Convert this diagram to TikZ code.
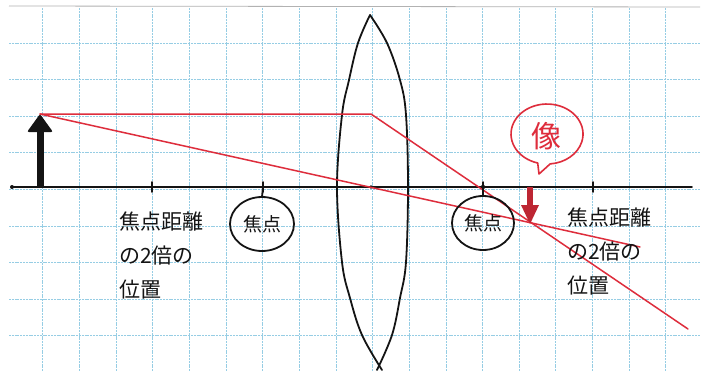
\documentclass[tikz,border=0pt]{standalone}
\usepackage{fontspec}
\newfontfamily\jp{Noto Sans CJK JP}
\definecolor{gridblue}{RGB}{150,205,228}
\definecolor{penred}{RGB}{222,45,60}
\definecolor{ink}{RGB}{20,20,20}
\begin{document}
\begin{tikzpicture}[x=1pt,y=-1pt,
  gridline/.style={draw=gridblue,line width=0.7pt,dash pattern=on 2pt off 0.8pt},
  inkline/.style={draw=ink,line width=1.8pt,line cap=round,line join=round},
  ray/.style={draw=penred,line width=1.5pt,line cap=round,line join=round},
  lbl/.style={font=\jp\fontsize{21}{34}\selectfont,text=ink,align=left,inner sep=0pt,anchor=north west},
  focustxt/.style={font=\jp\fontsize{19}{19}\selectfont,text=ink,inner sep=0pt},
]
\useasboundingbox (0,0) rectangle (705,373);
\fill[white] (0,0) rectangle (705,373);
% grid paper
\foreach \i in {0,...,17} \draw[gridline] ({42.7+36.65*\i},8) -- ({42.7+36.65*\i},371);
\foreach \j in {0,...,8} \draw[gridline] (9,{43+36.6*\j}) -- (700,{43+36.6*\j});
\draw[gray!60,line width=0.8pt] (9,6) -- (700,7);
% key points
\coordinate (axL) at (12,187);
\coordinate (axR) at (692,187);
\coordinate (lensC) at (371,187);
\coordinate (twoFL) at (152,187);
\coordinate (FL) at (263,187);
\coordinate (FR) at (483,187);
\coordinate (twoFR) at (593,187);
\coordinate (objBase) at (40,187);
\coordinate (objTip) at (40,114);
\coordinate (lensHit) at (371,114);
\coordinate (ray1End) at (688,329);
\coordinate (ray2End) at (640,247);
\coordinate (imgBase) at (530,187);
% optical axis
\draw[inkline] (axL) -- (axR);
\fill[ink] (axL) circle (2pt);
\fill[ink] (lensC) circle (1.8pt);
\foreach \p in {twoFL,FL,FR,twoFR} \draw[inkline] ([yshift=-5pt]\p) -- ([yshift=5pt]\p);
\fill[ink] (FR) circle (2.2pt);
% lens
\draw[inkline] plot[smooth,tension=0.6] coordinates {(370,15) (358,43) (349,80) (342,115) (337,187) (342,262) (350,298) (362,335) (382,370)};
\draw[inkline] plot[smooth,tension=0.6] coordinates {(370,15) (387,43) (400,80) (406,115) (408,187) (406,262) (400,298) (392,335) (377,370)};
% object arrow
\draw[ink,line width=7pt] (objBase) -- (40,127);
\fill[ink,rounded corners=2pt] (27,132) -- (objTip) -- (53,132) -- cycle;
% rays
\draw[ray] (objTip) -- (lensHit) -- (ray1End);
\draw[ray] (objTip) -- (ray2End);
% image arrow
\draw[penred!85!black,line width=5.5pt] (imgBase) -- (530,207);
\fill[penred!85!black] (521,205) -- (530,224) -- (539,205) -- cycle;
% focus circles
\node[focustxt] (focL) at (262,224) {焦点};
\draw[inkline] (262,224) ellipse [x radius=32,y radius=27];
\draw[inkline] (FL) -- (262,197);
\node[focustxt] (focR) at (483,223) {焦点};
\draw[inkline] (483,223) ellipse [x radius=31,y radius=27];
\draw[inkline] (FR) -- (483,196);
% image bubble
\draw[penred,line width=1.6pt,line join=round] (537.7,163) arc[start angle=105,end angle=445,x radius=36,y radius=30] -- (539,174) -- cycle;
\node[font=\jp\fontsize{30}{30}\selectfont,text=penred,inner sep=0pt] (img) at (546,136) {像};
% labels
\node[lbl] (lblL) at (119,212) {焦点距離\\の2倍の\\位置};
\node[lbl] (lblR) at (567,208) {焦点距離\\の2倍の\\位置};
\end{tikzpicture}
\end{document}
